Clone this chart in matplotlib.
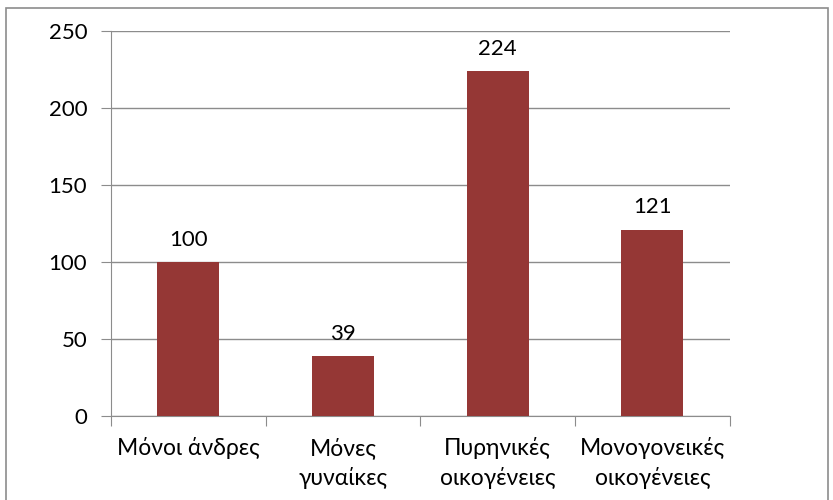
import matplotlib.pyplot as plt
from matplotlib.patches import Rectangle

categories = ["Μόνοι άνδρες", "Μόνες\nγυναίκες", "Πυρηνικές\nοικογένειες", "Μονογονεικές\nοικογένειες"]
values = [100, 39, 224, 121]

plt.rcParams['font.family'] = ['Lato', 'DejaVu Sans']

fig = plt.figure(figsize=(8.33, 5), dpi=100)
ax = fig.add_axes([0.133, 0.168, 0.743, 0.770])

# outer chart frame
fig.patches.append(Rectangle((6 / 833, -0.05), 822 / 833, 1.05 - 8 / 500,
                             transform=fig.transFigure, fill=False,
                             edgecolor="#8c8c8c", linewidth=1.2))

x = range(len(categories))
ax.bar(x, values, width=0.4, color="#953735", zorder=3)
for i, v in enumerate(values):
    ax.text(i, v + 8, str(v), ha="center", va="bottom", fontsize=16)

ax.set_xlim(-0.5, len(categories) - 0.5)
ax.set_ylim(0, 250)
ax.set_yticks(range(0, 251, 50))
ax.tick_params(axis="y", labelsize=16, length=7, color="#8c8c8c", pad=10)
ax.set_xticks([i - 0.5 for i in range(len(categories) + 1)])
ax.set_xticklabels([])
ax.set_xticks(list(x), minor=True)
ax.set_xticklabels(categories, minor=True, fontsize=16.5, linespacing=1.45)
ax.tick_params(axis="x", which="major", length=7, color="#8c8c8c")
ax.tick_params(axis="x", which="minor", length=0, pad=15)

ax.grid(axis="y", color="#8c8c8c", linewidth=1, zorder=0)
for s in ["top", "right"]:
    ax.spines[s].set_visible(False)
for s in ["left", "bottom"]:
    ax.spines[s].set_color("#8c8c8c")

fig.savefig("out.png", dpi=100)
